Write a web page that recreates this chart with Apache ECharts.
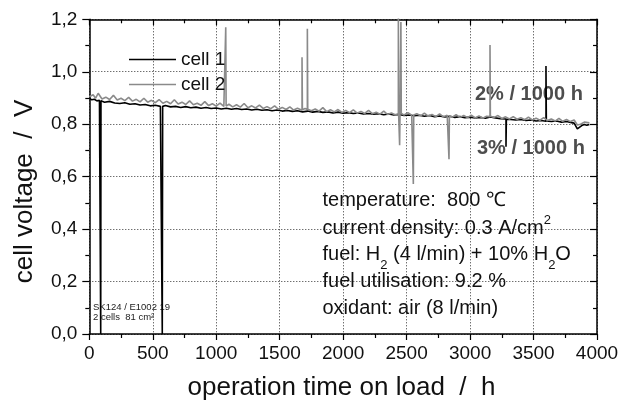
<!DOCTYPE html>
<html><head><meta charset="utf-8">
<script src="https://cdn.jsdelivr.net/npm/echarts@6/dist/echarts.min.js"></script>
<style>html,body{margin:0;padding:0;background:#fff}#c{width:633px;height:403px}</style>
</head><body><div id="c"></div><script>
// ---- data ----
const xMin = 0, xMax = 4000, xStep = 500;
const yMin = 0, yMax = 1.2, yStep = 0.2;
const seriesNames = ['cell 1', 'cell 2'];

const cell1T = [0,20,40,60,80,90,90,92,120,160,200,240,280,320,360,400,440,480,520,560,575,575,578,600,640,680,720,760,800,840,880,920,960,1000,1040,1080,1120,1160,1200,1240,1280,1320,1360,1400,1440,1480,1520,1560,1600,1640,1680,1720,1760,1800,1840,1880,1920,1960,2000,2040,2080,2120,2160,2200,2240,2280,2320,2360,2400,2440,2480,2520,2560,2600,2640,2680,2720,2760,2800,2840,2880,2920,2960,3000,3040,3080,3120,3160,3200,3240,3283,3283,3286,3320,3360,3400,3440,3480,3520,3560,3598,3598,3601,3640,3680,3720,3760,3800,3820,3845,3860,3880,3900,3920,3940];
const cell1V = [0.899,0.893,0.895,0.889,0.891,0.890,0.0,0.889,0.884,0.887,0.881,0.879,0.882,0.876,0.878,0.873,0.875,0.870,0.872,0.868,0.869,0.0,0.868,0.871,0.866,0.868,0.864,0.867,0.863,0.865,0.861,0.864,0.860,0.862,0.858,0.861,0.857,0.860,0.856,0.858,0.854,0.857,0.853,0.855,0.851,0.854,0.850,0.852,0.849,0.851,0.847,0.850,0.846,0.849,0.845,0.847,0.843,0.846,0.842,0.844,0.841,0.843,0.839,0.841,0.838,0.840,0.836,0.839,0.835,0.837,0.833,0.835,0.832,0.834,0.830,0.833,0.829,0.831,0.828,0.830,0.826,0.829,0.825,0.827,0.824,0.826,0.823,0.828,0.824,0.821,0.820,0.714,0.819,0.818,0.816,0.818,0.814,0.816,0.812,0.814,0.811,1.022,0.812,0.810,0.812,0.808,0.810,0.806,0.804,0.782,0.786,0.795,0.799,0.796,0.799];

const cell2T = [0,30,50,70,100,130,160,190,220,250,280,310,340,370,400,430,460,490,520,550,580,610,640,670,700,730,760,790,820,850,880,910,940,970,1000,1030,1060,1075,1075,1078,1100,1130,1160,1190,1220,1250,1280,1310,1340,1370,1400,1430,1460,1490,1520,1550,1580,1610,1640,1676,1676,1679,1700,1718,1718,1721,1750,1780,1810,1840,1870,1900,1930,1960,1990,2020,2050,2080,2110,2140,2170,2200,2230,2260,2290,2320,2350,2380,2410,2435,2435,2437,2445,2445,2448,2455,2455,2458,2480,2510,2540,2553,2553,2556,2580,2610,2640,2670,2700,2730,2760,2790,2820,2834,2834,2837,2860,2890,2920,2950,2980,3010,3040,3070,3100,3130,3157,3157,3160,3190,3220,3250,3280,3310,3340,3370,3400,3430,3460,3490,3520,3550,3580,3610,3640,3670,3700,3730,3760,3790,3820,3845,3870,3900,3940];
const cell2V = [0.905,0.912,0.899,0.918,0.896,0.903,0.894,0.910,0.892,0.899,0.890,0.902,0.888,0.895,0.885,0.899,0.884,0.891,0.882,0.894,0.880,0.887,0.878,0.893,0.877,0.884,0.875,0.889,0.874,0.880,0.872,0.886,0.871,0.878,0.869,0.880,0.868,0.870,1.170,0.869,0.876,0.866,0.874,0.865,0.879,0.863,0.870,0.862,0.873,0.860,0.867,0.859,0.870,0.857,0.864,0.856,0.866,0.854,0.861,0.853,1.055,0.855,0.860,0.856,1.164,0.857,0.851,0.858,0.850,0.863,0.848,0.855,0.847,0.856,0.845,0.852,0.844,0.855,0.842,0.849,0.841,0.853,0.840,0.846,0.838,0.850,0.837,0.843,0.836,0.840,1.250,0.839,0.838,0.720,0.840,0.842,1.190,0.841,0.835,0.844,0.834,0.836,0.572,0.835,0.840,0.832,0.842,0.831,0.837,0.829,0.839,0.828,0.834,0.831,0.666,0.830,0.827,0.836,0.826,0.833,0.825,0.834,0.824,0.831,0.823,0.830,0.829,1.102,0.830,0.826,0.833,0.822,0.828,0.820,0.829,0.819,0.825,0.817,0.827,0.816,0.823,0.815,0.825,0.814,0.820,0.812,0.822,0.811,0.818,0.810,0.816,0.797,0.800,0.808,0.805];

const rateLabels = ['2% / 1000 h', '3% / 1000 h'];
const sampleLabels = ['SK124 / E1002 19', '2 cells  81 cm\u00B2'];
const xTitle = 'operation time on load  /  h';
const yTitle = 'cell voltage  /  V';

// ---- rendering ----
const FONT = '"Liberation Sans", Arial, Helvetica, sans-serif';
const chart = echarts.init(document.getElementById('c'), null, {renderer: 'canvas'});
const measureCtx = document.createElement('canvas').getContext('2d');

function richRow(x0, baseline, segs, color) {
  let x = x0; const out = [];
  segs.forEach(s => {
    const size = s.size || 20;
    const font = (s.bold ? 'bold ' : '') + size + 'px ' + FONT;
    measureCtx.font = font;
    const w = measureCtx.measureText(s.t).width;
    out.push({type: 'text', x: x, y: baseline + (s.dy || 0) - 0.35 * size, silent: true,
      style: {text: s.t, font: font, fill: color || '#111', align: 'left', verticalAlign: 'middle'}});
    x += w;
  });
  return out;
}

const graphics = [].concat(
  richRow(322.5, 207, [{t: 'temperature:  800 \u2103'}]),
  richRow(322.5, 235, [{t: 'current density: 0.3 A/cm'}, {t: '2', size: 13, dy: -10}]),
  richRow(322.5, 261.7, [{t: 'fuel: H'}, {t: '2', size: 13, dy: 8}, {t: ' (4 l/min) + 10% H'}, {t: '2', size: 13, dy: 8}, {t: 'O'}]),
  richRow(322.5, 288.3, [{t: 'fuel utilisation: 9.2 %'}]),
  richRow(322.5, 315, [{t: 'oxidant: air (8 l/min)'}]),
  richRow(475, 101, [{t: rateLabels[0], bold: true}], '#4d4d4d'),
  richRow(477, 155, [{t: rateLabels[1], bold: true}], '#4d4d4d'),
  richRow(93, 311, [{t: sampleLabels[0], size: 9.5}], '#222'),
  richRow(93, 321, [{t: sampleLabels[1], size: 9.5}], '#222'),
  [
    {type: 'text', x: 341.5, y: 396.5 - 0.35 * 26, silent: true,
     style: {text: xTitle, font: '26px ' + FONT, fill: '#111', align: 'center', verticalAlign: 'middle'}},
    {type: 'text', x: 24.5, y: 191.5, rotation: Math.PI / 2, silent: true,
     style: {text: yTitle, font: '26px ' + FONT, fill: '#111', align: 'center', verticalAlign: 'middle'}}
  ]
);

const axisLine = {show: true, onZero: false, lineStyle: {color: '#000', width: 1.5}};
const tickStyle = {color: '#000', width: 1.2};
const gridLine = {show: true, lineStyle: {type: [1, 2], color: '#333', width: 1}};
const fmtY = v => v.toFixed(1).replace('.', ',');
const fmtX = v => String(Math.round(v));

chart.setOption({
  animation: false,
  backgroundColor: '#fff',
  textStyle: {fontFamily: FONT},
  grid: {left: 89.3, right: 36, top: 19.3, bottom: 69, containLabel: false},
  legend: {
    data: seriesNames, orient: 'vertical', left: 124, top: 45, icon: 'rect',
    itemWidth: 47, itemHeight: 1.5, itemGap: 6, selectedMode: false,
    textStyle: {fontSize: 19, color: '#111', fontFamily: FONT}
  },
  xAxis: [
    {type: 'value', position: 'bottom', min: xMin, max: xMax, interval: xStep,
     axisLine: axisLine, axisTick: {show: true, inside: false, length: 6, lineStyle: tickStyle},
     minorTick: {show: true, splitNumber: 2, length: 4, lineStyle: tickStyle},
     axisLabel: {fontSize: 19, color: '#111', margin: 10, formatter: fmtX, fontFamily: FONT},
     splitLine: gridLine},
    {type: 'value', position: 'top', min: xMin, max: xMax, interval: xStep,
     axisLine: axisLine, axisTick: {show: true, inside: true, length: 6, lineStyle: tickStyle},
     minorTick: {show: true, splitNumber: 2, length: 4, lineStyle: tickStyle},
     axisLabel: {show: false}, splitLine: {show: false}}
  ],
  yAxis: [
    {type: 'value', position: 'left', min: yMin, max: yMax, interval: yStep,
     axisLine: axisLine, axisTick: {show: true, inside: false, length: 7, lineStyle: tickStyle},
     minorTick: {show: true, splitNumber: 2, length: 4, lineStyle: tickStyle},
     axisLabel: {fontSize: 19, color: '#111', margin: 12, formatter: fmtY, fontFamily: FONT},
     splitLine: gridLine},
    {type: 'value', position: 'right', min: yMin, max: yMax, interval: yStep,
     axisLine: axisLine, axisTick: {show: true, inside: true, length: 7, lineStyle: tickStyle},
     minorTick: {show: true, splitNumber: 2, length: 4, lineStyle: tickStyle},
     axisLabel: {show: false}, splitLine: {show: false}}
  ],
  series: [
    {name: seriesNames[0], type: 'line', xAxisIndex: 0, yAxisIndex: 0, symbol: 'none', clip: true,
     color: '#000', lineStyle: {color: '#000', width: 1.6},
     data: cell1T.map((t, i) => [t, cell1V[i]])},
    {name: seriesNames[1], type: 'line', xAxisIndex: 0, yAxisIndex: 0, symbol: 'none', clip: true,
     color: '#8a8a8a', lineStyle: {color: '#8a8a8a', width: 1.6},
     data: cell2T.map((t, i) => [t, cell2V[i]])}
  ],
  graphic: graphics
});
</script></body></html>
